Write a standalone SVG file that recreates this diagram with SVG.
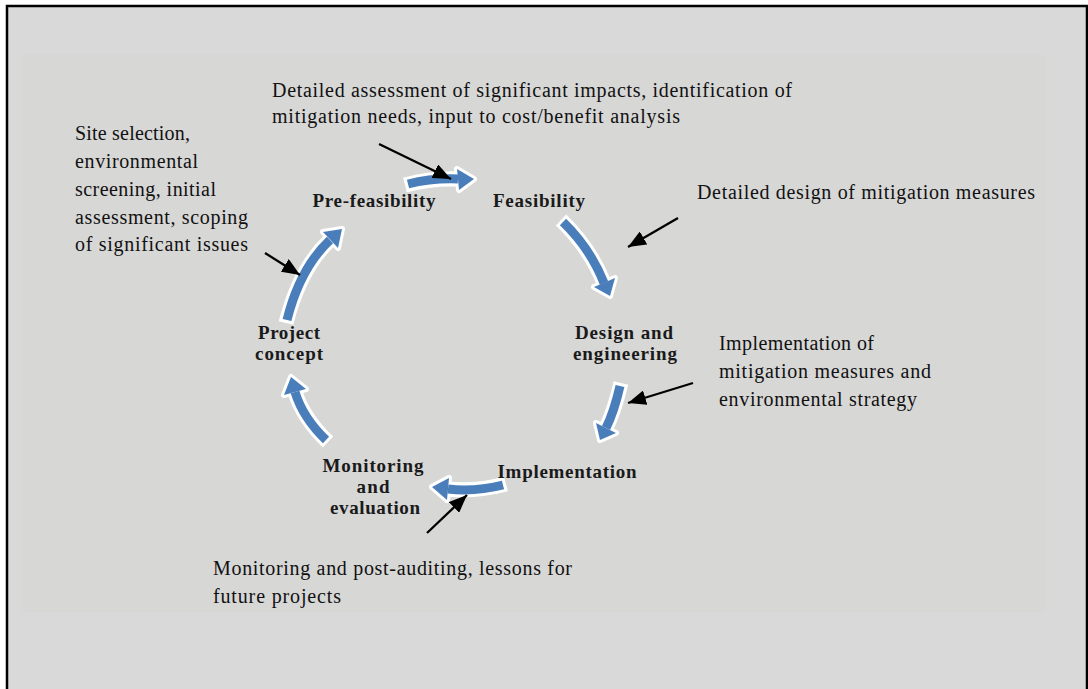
<svg xmlns="http://www.w3.org/2000/svg" width="1088" height="689" viewBox="0 0 1088 689">
<style>
.ann{font-family:"Liberation Serif","Times New Roman",serif;font-size:20px;fill:#111}
.lbl{font-family:"Liberation Serif","Times New Roman",serif;font-size:19px;font-weight:bold;fill:#1a1a1a;text-anchor:middle}
.cy-out{fill:none;stroke:#fff;stroke-width:15}
.cy-body{fill:none;stroke:#4a7ebb;stroke-width:9}
.hd-out{fill:#fff;stroke:#fff;stroke-width:6;stroke-linejoin:round}
.hd{fill:#4a7ebb}
.ptr{stroke:#000;stroke-width:2.3;fill:none;marker-end:url(#ah)}
</style>
<defs>
<marker id="ah" markerUnits="userSpaceOnUse" markerWidth="18" markerHeight="15" refX="18" refY="7.5" orient="auto" viewBox="0 0 18 15"><path d="M0,0 L18,7.5 L0,15 z" fill="#000"/></marker>
</defs>
<rect x="0" y="0" width="1088" height="689" fill="#ffffff"/>
<rect x="7" y="6" width="1081" height="683" fill="#d9d9d9"/>
<rect x="22" y="55" width="1024" height="557" fill="#d7d7d6"/>
<path d="M7,689 V6 H1087 V689" fill="none" stroke="#000" stroke-width="2.5"/>

<g id="connectors">
  <g id="c1">
    <path class="cy-out" d="M405,185 Q432,178 458,179"/>
    <path class="hd-out" d="M457,169 L474,179 L459,190 Z"/>
    <path class="cy-body" d="M408,184 Q432,178 458,179"/>
    <path class="hd" d="M457,169 L474,179 L459,190 Z"/>
  </g>
  <g id="c2">
    <path class="cy-out" d="M561,220 Q590,248 604,283"/>
    <path class="hd-out" d="M615,278 L610,296 L594,287 Z"/>
    <path class="cy-body" d="M563,222 Q590,248 604,283"/>
    <path class="hd" d="M615,278 L610,296 L594,287 Z"/>
  </g>
  <g id="c3">
    <path class="cy-out" d="M621,383 Q614,412 606,428"/>
    <path class="hd-out" d="M616,433 L600,440 L596,423 Z"/>
    <path class="cy-body" d="M620,386 Q614,412 606,428"/>
    <path class="hd" d="M616,433 L600,440 L596,423 Z"/>
  </g>
  <g id="c4">
    <path class="cy-out" d="M506,484 Q475,492 448,489"/>
    <path class="hd-out" d="M449,478 L432,487 L447,500 Z"/>
    <path class="cy-body" d="M503,485 Q475,492 448,489"/>
    <path class="hd" d="M449,478 L432,487 L447,500 Z"/>
  </g>
  <g id="c5">
    <path class="cy-out" d="M328,442 Q303,418 295,392"/>
    <path class="hd-out" d="M306,389 L291,377 L284,395 Z"/>
    <path class="cy-body" d="M326,440 Q303,418 295,392"/>
    <path class="hd" d="M306,389 L291,377 L284,395 Z"/>
  </g>
  <g id="c6">
    <path class="cy-out" d="M286,323 Q300,268 330,240"/>
    <path class="hd-out" d="M338,248 L342,229 L323,232 Z"/>
    <path class="cy-body" d="M287,320 Q300,268 330,240"/>
    <path class="hd" d="M338,248 L342,229 L323,232 Z"/>
  </g>
  <path class="ptr" d="M379,144 L451,179"/>
  <path class="ptr" d="M678,218 L628,247"/>
  <path class="ptr" d="M693,383 L628,403"/>
  <path class="ptr" d="M427,533 L467,495"/>
  <path class="ptr" d="M265,253 L300,275"/>
</g>

<g id="n-prefeasibility"><text class="lbl" x="374" y="207" textLength="123">Pre-feasibility</text></g>
<g id="n-feasibility"><text class="lbl" x="539" y="207" textLength="92">Feasibility</text></g>
<g id="n-design">
  <text class="lbl" x="624" y="339" textLength="98">Design and</text>
  <text class="lbl" x="625" y="360" textLength="104">engineering</text>
</g>
<g id="n-implementation"><text class="lbl" x="567" y="478" textLength="139">Implementation</text></g>
<g id="n-monitoring">
  <text class="lbl" x="373" y="472" textLength="101">Monitoring</text>
  <text class="lbl" x="373" y="493" textLength="33">and</text>
  <text class="lbl" x="375" y="514" textLength="90">evaluation</text>
</g>
<g id="n-project">
  <text class="lbl" x="289" y="339" textLength="62">Project</text>
  <text class="lbl" x="289" y="360" textLength="68">concept</text>
</g>

<g id="a-feasibility">
  <text class="ann" x="272" y="97" textLength="520">Detailed assessment of significant impacts, identification of</text>
  <text class="ann" x="272" y="123" textLength="408">mitigation needs, input to cost/benefit analysis</text>
</g>
<g id="a-prefeasibility">
  <text class="ann" x="75" y="140" textLength="115">Site selection,</text>
  <text class="ann" x="75" y="168" textLength="123">environmental</text>
  <text class="ann" x="75" y="196" textLength="141">screening, initial</text>
  <text class="ann" x="75" y="224" textLength="173">assessment, scoping</text>
  <text class="ann" x="75" y="251" textLength="173">of significant issues</text>
</g>
<g id="a-design"><text class="ann" x="697" y="199" textLength="338">Detailed design of mitigation measures</text></g>
<g id="a-implementation">
  <text class="ann" x="719" y="350" textLength="155">Implementation of</text>
  <text class="ann" x="719" y="378" textLength="212">mitigation measures and</text>
  <text class="ann" x="719" y="406" textLength="198">environmental strategy</text>
</g>
<g id="a-monitoring">
  <text class="ann" x="213" y="575" textLength="359">Monitoring and post-auditing, lessons for</text>
  <text class="ann" x="213" y="603" textLength="128">future projects</text>
</g>
</svg>
